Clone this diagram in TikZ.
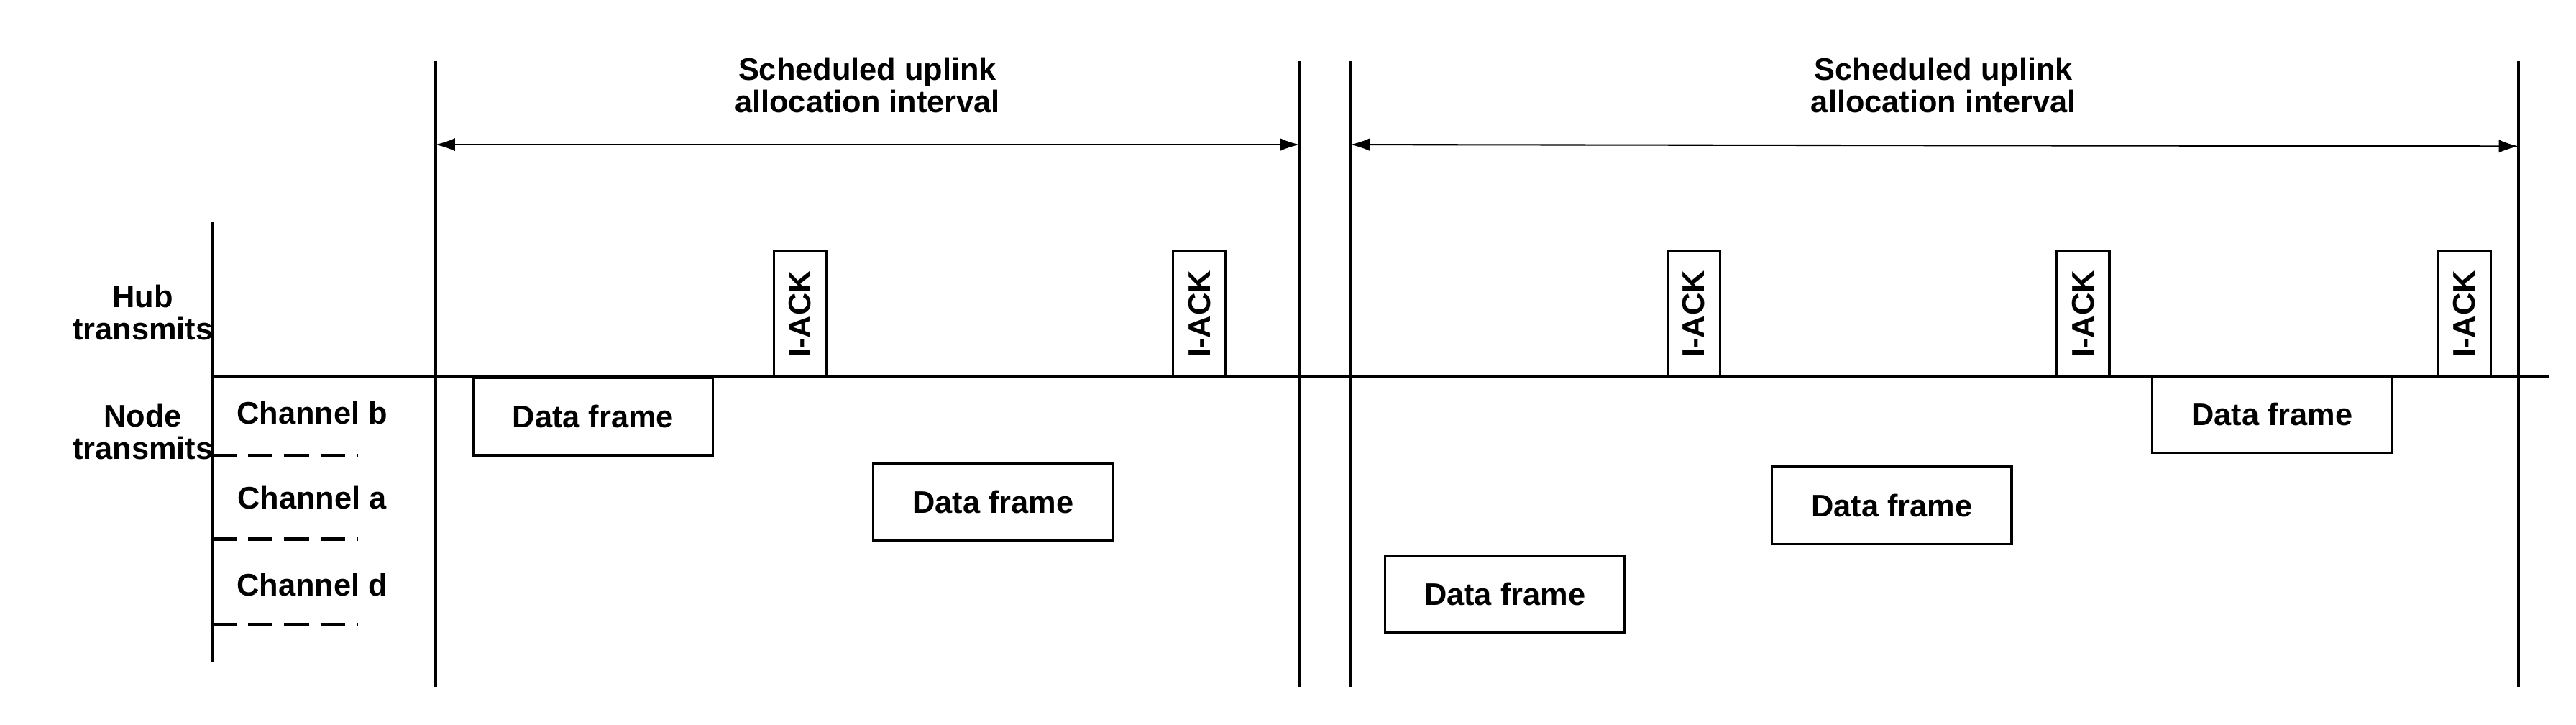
\documentclass[tikz,border=0pt]{standalone}
\usepackage{fontspec}
\setmainfont{Liberation Sans}
\usetikzlibrary{arrows.meta}
\begin{document}
\begin{tikzpicture}[x=0.05cm,y=-0.05cm,
  txt/.style={font=\fontsize{27}{32}\selectfont\bfseries,align=center},
  df/.style={draw,line width=2pt,minimum width=7.3cm,minimum height=2.35cm,font=\fontsize{27}{32}\selectfont\bfseries},
  ack/.style={draw,line width=2pt,rotate=90,minimum width=3.8cm,minimum height=1.6cm,font=\fontsize{27}{32}\selectfont\bfseries,inner sep=0pt},
  vl/.style={line width=2.8pt},
  dim/.style={line width=1.3pt,{Latex[length=0.6cm,width=0.4cm]}-{Latex[length=0.6cm,width=0.4cm]}}]
\useasboundingbox (0,0) rectangle (1568,441);
% vertical lines
\coordinate (l0t) at (129,135); \coordinate (l0b) at (129,403);
\foreach \n/\x in {1/265,2/791,3/822,4/1533}{
  \coordinate (t\n) at (\x,37); \coordinate (b\n) at (\x,418);
  \draw[vl] (t\n) -- (b\n);}
\draw[vl] (l0t) -- (l0b);
\coordinate (hs) at (129,229); \coordinate (he) at (1552,229);
\draw[line width=1.8pt] (hs) -- (he);
% dimension arrows
\coordinate (a1) at (265,88); \coordinate (a2) at (791,88);
\coordinate (a3) at (822,88); \coordinate (a4) at (1533,89);
\draw[dim] (a1) -- (a2);
\draw[dim] (a3) -- (a4);
\node[txt] (s1) at (528,52) {Scheduled uplink\\[-4pt]allocation interval};
\node[txt] (s2) at (1183,52) {Scheduled uplink\\[-4pt]allocation interval};
% left labels
\node[txt] (hub) at (87,190) {Hub\\[-4pt]transmits};
\node[txt] (node) at (87,263) {Node\\[-4pt]transmits};
\node[txt] (cb) at (190,251) {Channel b};
\node[txt] (ca) at (190,303) {Channel a};
\node[txt] (cd) at (190,356) {Channel d};
\foreach \n/\y in {b/277,a/328,d/380}{
  \coordinate (ds\n) at (129,\y); \coordinate (de\n) at (218,\y);
  \draw[line width=2.6pt,dash pattern=on 0.75cm off 0.35cm] (ds\n) -- (de\n);}
% data frames
\node[df] (d1) at (361,253.5) {Data frame};
\node[df] (d2) at (604.5,305.5) {Data frame};
\node[df] (d3) at (916,361.5) {Data frame};
\node[df] (d4) at (1151.5,307.5) {Data frame};
\node[df] (d5) at (1383,252) {Data frame};
% I-ACK
\foreach \n/\x in {1/487,2/730,3/1031,4/1268,5/1500}{
  \node[ack] (k\n) at (\x,191) {I-ACK};}
\end{tikzpicture}
\end{document}
